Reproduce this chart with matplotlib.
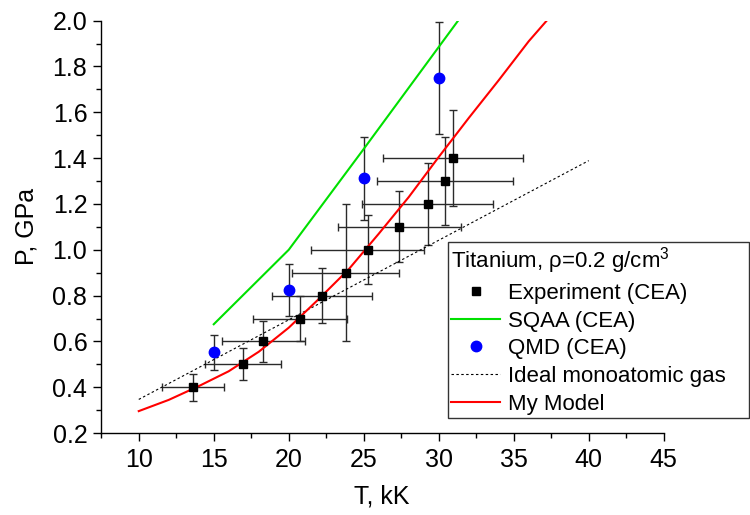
import matplotlib
matplotlib.use("Agg")
import matplotlib.pyplot as plt
from matplotlib.ticker import MultipleLocator, FormatStrFormatter

plt.rcParams['font.family'] = ['Liberation Sans', 'DejaVu Sans']
plt.rcParams['mathtext.fontset'] = 'custom'
plt.rcParams['mathtext.rm'] = 'Liberation Sans'

# Experiment (CEA): T [kK], P [GPa] with errors
exp_T = [13.6, 16.95, 18.3, 20.75, 22.2, 23.8, 25.25, 27.35, 29.25, 30.4, 30.95]
exp_P = [0.40, 0.50, 0.60, 0.70, 0.80, 0.90, 1.00, 1.10, 1.20, 1.30, 1.40]
exp_Terr = [2.05, 2.55, 2.75, 3.13, 3.35, 3.57, 3.77, 4.1, 4.37, 4.53, 4.65]
exp_Perr = [0.06, 0.07, 0.09, 0.10, 0.12, 0.30, 0.15, 0.155, 0.18, 0.19, 0.21]

# QMD (CEA)
qmd_T = [15, 20, 25, 30]
qmd_P = [0.553, 0.823, 1.312, 1.75]
qmd_Perr = [0.077, 0.113, 0.182, 0.245]

# SQAA (CEA)
sqaa_T = [15, 20, 25, 30, 35]
sqaa_P = [0.675, 1.0, 1.44, 1.885, 2.33]

# Ideal monoatomic gas
ideal_T = [10, 40]
ideal_P = [0.347, 1.389]

# My Model
model_T = [10, 12, 14, 16, 18, 20, 22, 24, 26, 28, 30, 32, 34, 36, 37.2]
model_P = [0.296, 0.345, 0.405, 0.470, 0.555, 0.660, 0.785, 0.915, 1.07,
           1.23, 1.405, 1.575, 1.74, 1.91, 2.0]

fig = plt.figure(figsize=(7.5, 5.15), dpi=100)
ax = fig.add_axes([0.134, 0.159, 0.751, 0.801])

ax.errorbar(exp_T, exp_P, xerr=exp_Terr, yerr=exp_Perr, fmt='none',
            ecolor='#2a2a2a', elinewidth=1, capsize=3, capthick=1, zorder=2)
ax.errorbar(qmd_T, qmd_P, yerr=qmd_Perr, fmt='none',
            ecolor='#2a2a2a', elinewidth=1, capsize=3, capthick=1, zorder=2)

ax.plot(exp_T, exp_P, 's', color='black', ms=6, ls='none',
        label='Experiment (CEA)', zorder=4)
ax.plot(sqaa_T, sqaa_P, color='#00e000', lw=1.5, label='SQAA (CEA)', zorder=3)
ax.plot(qmd_T, qmd_P, 'o', color='blue', ms=7.5, ls='none',
        label='QMD (CEA)', zorder=4)
ax.plot(ideal_T, ideal_P, color='black', lw=0.8, dashes=(2.2, 2.2),
        label='Ideal monoatomic gas', zorder=3)
ax.plot(model_T, model_P, color='#ff0000', lw=1.5, label='My Model', zorder=3)

ax.set_xlim(7.45, 45)
ax.set_ylim(0.2, 2.0)
ax.xaxis.set_major_locator(MultipleLocator(5))
ax.xaxis.set_minor_locator(MultipleLocator(2.5))
ax.yaxis.set_major_locator(MultipleLocator(0.2))
ax.yaxis.set_minor_locator(MultipleLocator(0.1))
ax.set_xticks([10, 15, 20, 25, 30, 35, 40, 45])
ax.yaxis.set_major_formatter(FormatStrFormatter('%.1f'))

for side in ['top', 'right']:
    ax.spines[side].set_visible(False)
for side in ['left', 'bottom']:
    ax.spines[side].set_linewidth(1)
ax.tick_params(which='major', direction='out', length=6, width=1, labelsize=18)
ax.tick_params(axis='x', which='major', pad=5)
ax.tick_params(which='minor', direction='out', length=3.5, width=1)

ax.set_xlabel('T, kK', fontsize=18, labelpad=9)
ax.set_ylabel('P, GPa', fontsize=18, labelpad=10)

# legend box spans past the right end of the axes, as in the original
leg = ax.legend(title='Titanium, ρ=0.2 g/cm$^{3}$', loc='upper left',
                bbox_to_anchor=(448 / 750, 1 - 416 / 515, 301 / 750, 174 / 515),
                bbox_transform=fig.transFigure, mode='expand',
                fontsize=16, title_fontsize=16, frameon=True, fancybox=False,
                framealpha=1, borderpad=0.15, labelspacing=0.3, handlelength=2.2,
                handletextpad=0.35, borderaxespad=0)
leg._legend_box.align = 'left'
leg.get_frame().set_edgecolor('#333333')
leg.get_frame().set_linewidth(1)

fig.savefig('out.png', dpi=100)
